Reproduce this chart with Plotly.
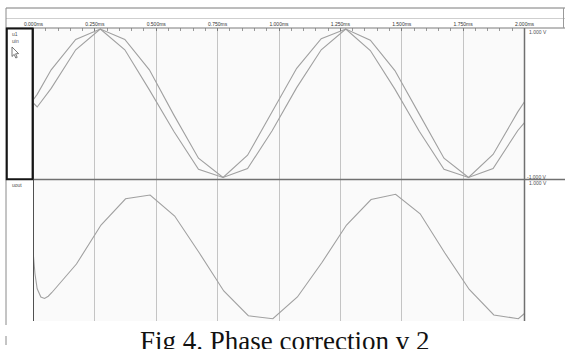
import plotly.graph_objects as go

W, H = 565, 349

# ---- data -------------------------------------------------------------
tick_vals = [0.0, 0.25, 0.5, 0.75, 1.0, 1.25, 1.5, 1.75, 2.0]
tick_text = ["0.000ms", "0.250ms", "0.500ms", "0.750ms", "1.000ms",
             "1.250ms", "1.500ms", "1.750ms", "2.000ms"]

t_in = [0.0, 0.015, 0.072, 0.172, 0.272, 0.372, 0.472, 0.572, 0.672, 0.772,
        0.872, 0.972, 1.072, 1.172, 1.272, 1.372, 1.472, 1.572, 1.672, 1.772,
        1.872, 1.972, 2.0]
u1 = [0.05, 0.12, 0.45, 0.86, 1.0, 0.86, 0.45, -0.16, -0.74, -1.0,
      -0.70, -0.12, 0.47, 0.87, 1.0, 0.85, 0.44, -0.15, -0.74, -1.0,
      -0.69, -0.12, 0.02]
uin = [0.0, -0.05, 0.20, 0.72, 1.0, 0.72, 0.18, -0.38, -0.89, -1.0,
       -0.88, -0.37, 0.21, 0.72, 1.0, 0.71, 0.19, -0.38, -0.89, -1.0,
       -0.88, -0.37, -0.26]

t_out = [0.0, 0.006, 0.015, 0.03, 0.045, 0.06, 0.075, 0.175, 0.275, 0.375,
         0.475, 0.575, 0.675, 0.775, 0.875, 0.975, 1.075, 1.175, 1.275,
         1.375, 1.475, 1.575, 1.675, 1.775, 1.875, 1.975, 2.0]
uout = [-0.02, -0.25, -0.45, -0.56, -0.58, -0.55, -0.50, -0.12, 0.40, 0.75,
        0.80, 0.52, 0.03, -0.48, -0.81, -0.85, -0.56, -0.10, 0.40,
        0.74, 0.81, 0.55, 0.03, -0.46, -0.80, -0.85, -0.78]

# ---- helpers (pixel -> paper) ----------------------------------------
def fx(px):
    return px / W

def fy(py):
    return 1 - py / H

CURVE = "#a0a0a0"
GRID = "#c4c4c4"

fig = go.Figure()
fig.add_trace(go.Scatter(x=t_in, y=u1, mode="lines", name="u1",
                         line=dict(color=CURVE, width=1.1),
                         xaxis="x", yaxis="y", hoverinfo="skip"))
fig.add_trace(go.Scatter(x=t_in, y=uin, mode="lines", name="uin",
                         line=dict(color=CURVE, width=1.1),
                         xaxis="x", yaxis="y", hoverinfo="skip"))
fig.add_trace(go.Scatter(x=t_out, y=uout, mode="lines", name="uout",
                         line=dict(color=CURVE, width=1.1),
                         xaxis="x2", yaxis="y2", hoverinfo="skip"))

xdom = [fx(33.5), fx(524.5)]

shapes = []
def hline(y, x0, x1, color, width=1):
    shapes.append(dict(type="line", xref="paper", yref="paper",
                       x0=fx(x0), x1=fx(x1), y0=fy(y), y1=fy(y),
                       line=dict(color=color, width=width), layer="above"))

def vline(x, y0, y1, color, width=1):
    shapes.append(dict(type="line", xref="paper", yref="paper",
                       x0=fx(x), x1=fx(x), y0=fy(y0), y1=fy(y1),
                       line=dict(color=color, width=width), layer="above"))

hline(8, 6, 565, "#7a7a7a")
hline(18.5, 6, 565, "#cfcfcf")
hline(28, 6, 565, "#7a7a7a")
vline(6, 8, 325, "#8a8a8a")
vline(6, 336, 345, "#8a8a8a")
vline(563.5, 8, 28, "#9a9a9a")
vline(33.5, 28, 321, "#505050")
vline(524.5, 28, 321, "#707070", 1.5)
hline(179.5, 33, 565, "#707070", 1.5)
# selected-channel box
shapes.append(dict(type="rect", xref="paper", yref="paper",
                   x0=fx(6.8), x1=fx(32.6), y0=fy(179.3), y1=fy(28.4),
                   line=dict(color="#151515", width=2), layer="above"))
# cursor arrow icon
pts = [(12, 47), (12, 56.5), (14.2, 54.4), (15.8, 58), (17.2, 57.4),
       (15.6, 53.8), (18.6, 53.6)]
path = "M " + " L ".join(f"{fx(a):.5f},{fy(b):.5f}" for a, b in pts) + " Z"
shapes.append(dict(type="path", xref="paper", yref="paper", path=path,
                   line=dict(color="#555555", width=0.8), fillcolor="#ffffff",
                   layer="above"))

ann = []
def label(text, x, y, size=5, color="#505050", xanchor="left"):
    ann.append(dict(text=text, x=fx(x), y=fy(y), xref="paper", yref="paper",
                    xanchor=xanchor, yanchor="middle", showarrow=False,
                    font=dict(size=size, color=color, family="Liberation Sans")))

label("u1", 9.5, 33.5)
label("uin", 9.5, 40.5)
label("uout", 9.5, 185)
label("1.000 V", 527, 31.5)
label("-1.000 V", 525, 176.5)
label("1.000 V", 527, 183.5)

ann.append(dict(text="Fig 4. Phase correction v 2", x=fx(284), y=fy(324),
                xref="paper", yref="paper", xanchor="center", yanchor="top",
                showarrow=False,
                font=dict(size=27, color="#111111", family="Liberation Serif")))

fig.update_layout(
    template="none",
    width=W, height=H,
    autosize=False,
    margin=dict(l=0, r=0, t=0, b=0, pad=0, autoexpand=False),
    paper_bgcolor="#ffffff",
    plot_bgcolor="#fafafa",
    showlegend=False,
    shapes=shapes,
    annotations=ann,
    xaxis=dict(domain=xdom, range=[0, 2], anchor="y", side="top",
               automargin=False,
               tickvals=tick_vals, ticktext=tick_text,
               ticks="inside", ticklen=3, tickcolor="#7a7a7a",
               tickfont=dict(size=5, color="#333333", family="Liberation Sans"),
               showgrid=True, gridcolor=GRID, gridwidth=1,
               zeroline=False, showline=False, fixedrange=True,
               minor=dict(dtick=0.05, ticks="inside", ticklen=3,
                          tickcolor="#9a9a9a", showgrid=False)),
    yaxis=dict(domain=[fy(179.5), fy(28)], range=[-1.027, 1.0135],
               automargin=False, visible=False, fixedrange=True),
    xaxis2=dict(domain=xdom, range=[0, 2], anchor="y2", automargin=False,
                tickvals=tick_vals, showticklabels=False, ticks="",
                showgrid=True, gridcolor=GRID, gridwidth=1,
                zeroline=False, showline=False, fixedrange=True),
    yaxis2=dict(domain=[fy(321), fy(180)], range=[-0.88, 1.0],
                automargin=False, visible=False, fixedrange=True),
)

fig.write_html("out.html")
